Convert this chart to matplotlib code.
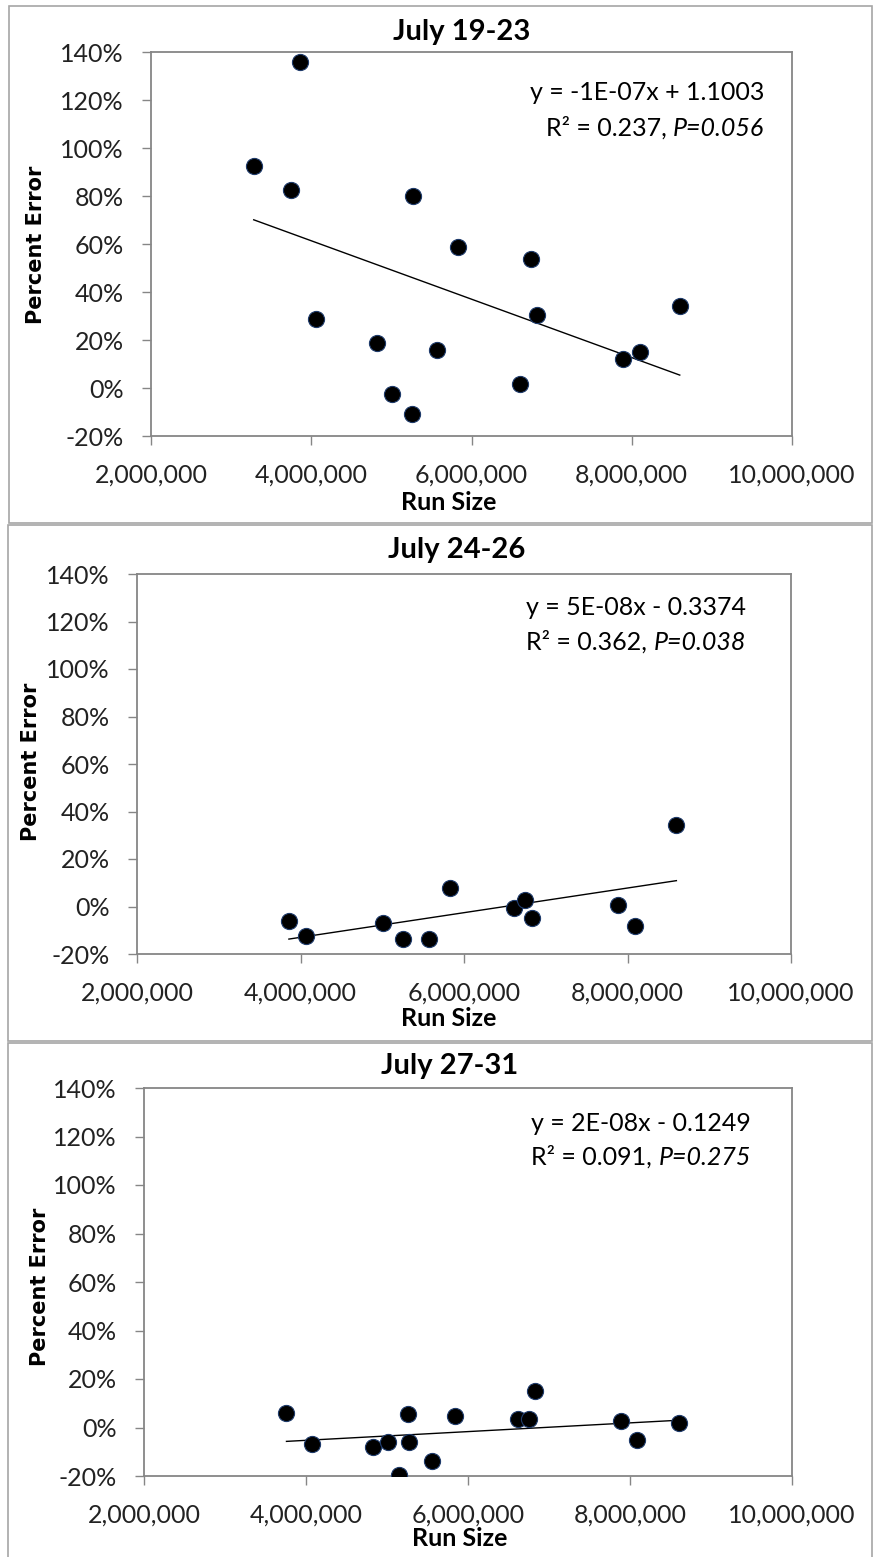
import numpy as np
import matplotlib.pyplot as plt
from matplotlib.ticker import PercentFormatter, StrMethodFormatter, MultipleLocator
from matplotlib.patches import Rectangle

plt.rcParams['font.family'] = ['Lato', 'DejaVu Sans']
plt.rcParams['axes.unicode_minus'] = False

titles = ['July 19-23', 'July 24-26', 'July 27-31']

run_19_23 = [3282000, 3742000, 3854000, 4063000, 4815000, 5003000, 5254000, 5275000,
             5568000, 5826000, 6606000, 6746000, 6822000, 7889000, 8098000, 8599000]
err_19_23 = [0.927, 0.827, 1.360, 0.287, 0.186, -0.023, -0.110, 0.799,
             0.159, 0.589, 0.018, 0.539, 0.303, 0.120, 0.150, 0.343]

run_24_26 = [3858000, 4070000, 5012000, 5258000, 5566000, 5832000,
             6611000, 6747000, 6829000, 7881000, 8093000, 8598000]
err_24_26 = [-0.061, -0.125, -0.069, -0.136, -0.138, 0.077,
             -0.008, 0.028, -0.047, 0.008, -0.082, 0.344]

run_27_31 = [3759000, 4069000, 4821000, 5014000, 5145000, 5262000, 5276000, 5559000,
             5834000, 6614000, 6759000, 6828000, 7890000, 8090000, 8600000]
err_27_31 = [0.060, -0.070, -0.079, -0.061, -0.194, 0.055, -0.058, -0.137,
             0.048, 0.036, 0.033, 0.150, 0.026, -0.050, 0.020]

runs = [run_19_23, run_24_26, run_27_31]
errs = [err_19_23, err_24_26, err_27_31]

# trendline coefficients
slopes = [-1.217e-7, 5.19e-8, 1.8e-8]
intercepts = [1.1003, -0.3374, -0.1249]
r_squared = ['0.237', '0.362', '0.091']
p_values = ['0.056', '0.038', '0.275']

W, H = 875, 1557
fig = plt.figure(figsize=(W / 100, H / 100), dpi=100)


def fx(x):
    return x / W


def fy(y):
    return 1 - y / H


# pixel layout of each chart: outer box, plot area, text anchors
boxes = [(9, 6, 872, 523), (8, 525, 872, 1041), (8, 1043, 872, 1575)]
plot_areas = [(151, 52, 792, 436), (137, 574, 791, 954), (144, 1088, 792, 1476)]
title_pos = [(462, 32), (457, 550), (450, 1066)]
xlabel_pos = [(449, 503), (449, 1019), (460, 1539)]
ylabel_pos = [(36, 245), (31, 762), (40, 1287)]
eq_right = [764, 746, 751]
eq_rows = [(92, 128), (607, 642), (1123, 1157)]

axis_grey = '#868686'
renderer = fig.canvas.get_renderer()

for i in range(3):
    x0, y0, x1, y1 = boxes[i]
    fig.patches.append(Rectangle((fx(x0), fy(y1)), fx(x1 - x0), (y1 - y0) / H,
                                 transform=fig.transFigure, fill=False,
                                 edgecolor='#a6a6a6', linewidth=1.2))

    l, t, r, b = plot_areas[i]
    ax = fig.add_axes([fx(l), fy(b), fx(r - l), (b - t) / H])

    x = np.array(runs[i])
    y = np.array(errs[i])
    ax.scatter(x, y, s=135, c='black', edgecolors='#1f3b6b', linewidths=0.8, zorder=3)

    xs = np.array([x.min(), x.max()])
    ax.plot(xs, slopes[i] * xs + intercepts[i], color='black', linewidth=1.0, zorder=2)

    ax.set_xlim(2000000, 10000000)
    ax.set_ylim(-0.2, 1.4)
    ax.xaxis.set_major_locator(MultipleLocator(2000000))
    ax.yaxis.set_major_locator(MultipleLocator(0.2))
    ax.xaxis.set_major_formatter(StrMethodFormatter('{x:,.0f}'))
    ax.yaxis.set_major_formatter(PercentFormatter(xmax=1, decimals=0))
    ax.tick_params(direction='out', length=6.5, width=1.0, color=axis_grey,
                   labelsize=18, labelcolor='#222222', pad=13)
    for s in ax.spines.values():
        s.set_color(axis_grey)
        s.set_linewidth(1.3)

    tx, ty = title_pos[i]
    fig.text(fx(tx), fy(ty), titles[i], ha='center', va='center',
             fontsize=21, fontweight='bold')
    lx, ly = xlabel_pos[i]
    fig.text(fx(lx), fy(ly), 'Run Size', ha='center', va='center',
             fontsize=18, fontweight='bold')
    px, py = ylabel_pos[i]
    fig.text(fx(px), fy(py), 'Percent Error', ha='center', va='center', rotation=90,
             fontsize=15, fontweight='bold', family='DejaVu Sans')

    # equation and fit statistics, P value in italics
    sign = '-' if intercepts[i] < 0 else '+'
    eq = f'y = {slopes[i]:.0E}x {sign} {abs(intercepts[i]):.4f}'
    r1, r2 = eq_rows[i]
    fig.text(fx(eq_right[i]), fy(r1 + 8), eq, ha='right', va='baseline', fontsize=18)
    pt = fig.text(fx(eq_right[i]), fy(r2 + 8), f'P={p_values[i]}', ha='right',
                  va='baseline', fontsize=18, style='italic')
    left_px = pt.get_window_extent(renderer).x0
    fig.text(left_px / W, fy(r2 + 8), f'R\u00b2 = {r_squared[i]}, ', ha='right',
             va='baseline', fontsize=18)

fig.savefig('out.png', dpi=100, facecolor='white')
